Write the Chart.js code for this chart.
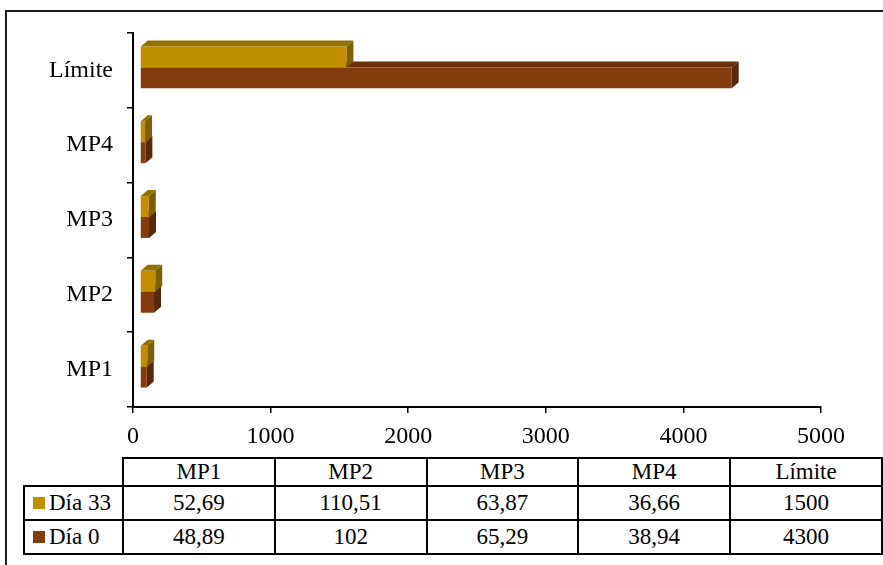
<!DOCTYPE html>
<html>
<head>
<meta charset="utf-8">
<script src="https://cdn.jsdelivr.net/npm/chart.js@4.4.0/dist/chart.umd.min.js"></script>
<style>
  body { margin: 0; background: #fff; width: 883px; height: 565px; overflow: hidden; position: relative; font-family: 'Liberation Serif', serif; }
  #frame { position: absolute; left: 5px; top: 10px; width: 900px; height: 600px; border: 2px solid #1a1a1a; box-sizing: border-box; }
  #chartCanvas { position: absolute; left: 0; top: 0; }
  #dataTable { position: absolute; left: 23px; top: 457px; border-collapse: collapse; color: #000; }
  #dataTable td { font-family: 'Liberation Serif', serif; font-size: 23px; border: 2px solid #000; text-align: center; padding: 0; height: 32px; line-height: 26px; }
  #dataTable tr.head td { height: 24px; }
  #dataTable td.corner { border-top: none; border-left: none; }
  #dataTable td.lab { text-align: left; padding-left: 8px; width: 89px; white-space: nowrap; }
  #dataTable td.val { width: 150px; }
  .swatch { display: inline-block; width: 12px; height: 12px; margin-right: 4px; vertical-align: 1px; }
</style>
</head>
<body>
<div id="frame"></div>
<canvas id="chartCanvas" width="883" height="455"></canvas>
<table id="dataTable"></table>
<script>
// categories, bottom to top on the chart / left to right in the table
const categories = ['MP1', 'MP2', 'MP3', 'MP4', 'Límite'];
const dia33 = [52.69, 110.51, 63.87, 36.66, 1500];
const dia0 = [48.89, 102, 65.29, 38.94, 4300];
const xTicks = [0, 1000, 2000, 3000, 4000, 5000];

const goldFront = '#bf8f00', goldTop = '#977100', goldSide = '#7f6000';
const brownFront = '#843c0c', brownTop = '#6a300a', brownSide = '#5a2708';

// fake 3D: shift the fronts a bit and draw top/side faces behind them
const shiftX = 7, shiftY = -3, depthX = 7, depthY = -6;
const bar3d = {
  id: 'bar3d',
  beforeDatasetDraw(chart, args) {
    const ctx = chart.ctx;
    const ds = chart.data.datasets[args.index];
    ctx.save();
    ctx.translate(shiftX, shiftY);
    args.meta.data.forEach(bar => {
      const left = bar.base, right = bar.x;
      const top = bar.y - bar.height / 2, bottom = bar.y + bar.height / 2;
      ctx.fillStyle = ds.topColor;
      ctx.beginPath();
      ctx.moveTo(left, top);
      ctx.lineTo(left + depthX, top + depthY);
      ctx.lineTo(right + depthX, top + depthY);
      ctx.lineTo(right, top);
      ctx.closePath();
      ctx.fill();
      ctx.fillStyle = ds.sideColor;
      ctx.beginPath();
      ctx.moveTo(right, top);
      ctx.lineTo(right + depthX, top + depthY);
      ctx.lineTo(right + depthX, bottom + depthY);
      ctx.lineTo(right, bottom);
      ctx.closePath();
      ctx.fill();
    });
  },
  afterDatasetDraw(chart) {
    chart.ctx.restore();
  }
};

const font = { family: "'Liberation Serif', serif", size: 24 };

new Chart(document.getElementById('chartCanvas').getContext('2d'), {
  type: 'bar',
  data: {
    labels: categories,
    datasets: [{
      label: 'Día 33',
      data: dia33,
      backgroundColor: goldFront,
      topColor: goldTop,
      sideColor: goldSide,
      clip: false
    }, {
      label: 'Día 0',
      data: dia0,
      backgroundColor: brownFront,
      topColor: brownTop,
      sideColor: brownSide,
      clip: false
    }]
  },
  options: {
    indexAxis: 'y',
    responsive: false,
    animation: false,
    categoryPercentage: 0.56,
    barPercentage: 1,
    layout: { padding: { left: 0, right: 62, top: 33, bottom: 0 } },
    plugins: {
      legend: { display: false },
      tooltip: { enabled: false }
    },
    scales: {
      x: {
        min: 0,
        max: 5000,
        afterBuildTicks: scale => { scale.ticks = xTicks.map(v => ({ value: v })); },
        afterFit: scale => { scale.height = 48; },
        grid: { drawOnChartArea: false, drawTicks: true, tickLength: 6, color: '#000', lineWidth: 1.5 },
        border: { color: '#000', width: 2 },
        ticks: { color: '#000', font: font, padding: 9, maxRotation: 0, callback: v => String(v) }
      },
      y: {
        reverse: true,
        afterFit: scale => { scale.width = 133; },
        grid: { drawOnChartArea: false, drawTicks: true, tickLength: 6, color: '#000', lineWidth: 1.5, offset: true },
        border: { color: '#000', width: 2 },
        ticks: { color: '#000', font: font, padding: 14 }
      }
    }
  },
  plugins: [bar3d]
});

// data table under the chart
const fmt = v => String(v).replace('.', ',');
const table = document.getElementById('dataTable');
let html = '<tr class="head"><td class="corner"></td>' + categories.map(c => '<td class="val">' + c + '</td>').join('') + '</tr>';
html += '<tr><td class="lab"><span class="swatch" style="background:' + goldFront + '"></span>Día 33</td>' + dia33.map(v => '<td class="val">' + fmt(v) + '</td>').join('') + '</tr>';
html += '<tr><td class="lab"><span class="swatch" style="background:' + brownFront + '"></span>Día 0</td>' + dia0.map(v => '<td class="val">' + fmt(v) + '</td>').join('') + '</tr>';
table.innerHTML = html;
</script>
</body>
</html>
